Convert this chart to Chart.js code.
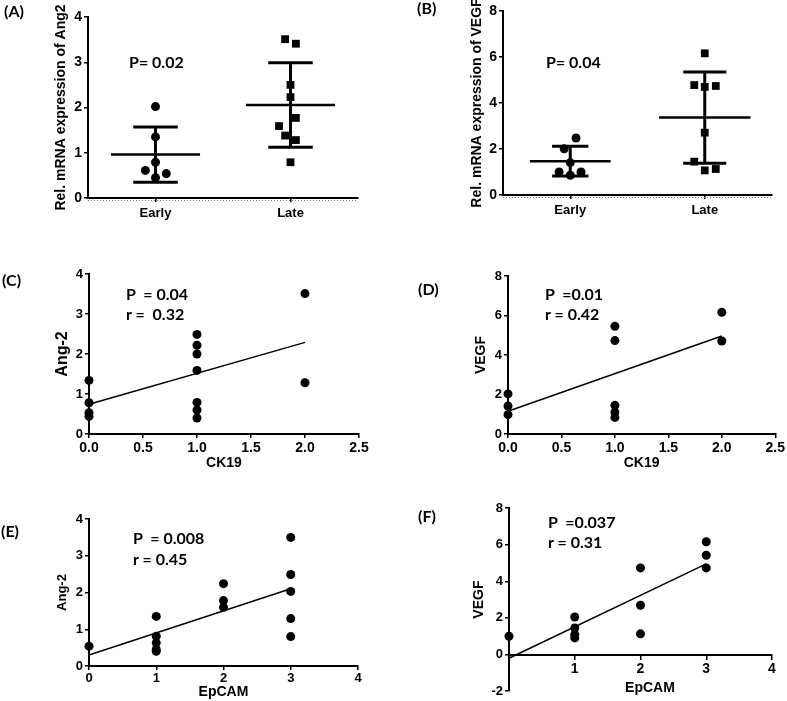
<!DOCTYPE html>
<html>
<head>
<meta charset="utf-8">
<script src="https://cdn.jsdelivr.net/npm/chart.js@4.4.1/dist/chart.umd.min.js"></script>
<style>
  html, body { margin: 0; padding: 0; background: #fff; }
  body { width: 787px; height: 701px; position: relative; overflow: hidden; }
  canvas { position: absolute; }
  .txt { position: absolute; font-family: Lato, "Open Sans", sans-serif; font-weight: bold; font-size: 16px;
         color: #000; white-space: pre; line-height: 1; transform: translateY(-50%); }
  .axt { position: absolute; font-family: "Liberation Sans", Arial, sans-serif; font-weight: bold; font-size: 14px;
         color: #000; line-height: 1; transform: translate(-50%, -50%); }
</style>
</head>
<body>
<canvas id="cA" width="390" height="222" style="left:0;top:0"></canvas>
<canvas id="cB" width="387" height="222" style="left:400px;top:0"></canvas>
<canvas id="cC" width="390" height="250" style="left:0;top:225px"></canvas>
<canvas id="cD" width="387" height="250" style="left:400px;top:225px"></canvas>
<canvas id="cE" width="390" height="231" style="left:0;top:470px"></canvas>
<canvas id="cF" width="387" height="231" style="left:400px;top:470px"></canvas>

<div class="txt" style="left:4px;top:11px">(A)</div>
<div class="txt" style="left:129px;top:62px">P= 0.02</div>
<div class="txt" style="left:417px;top:8px">(B)</div>
<div class="txt" style="left:546px;top:62px">P= 0.04</div>
<div class="txt" style="left:2px;top:280px">(C)</div>
<div class="txt" style="left:126px;top:294px">P  = 0.04</div>
<div class="txt" style="left:126px;top:314px">r =  0.32</div>
<div class="txt" style="left:418px;top:289px">(D)</div>
<div class="txt" style="left:545px;top:294px">P  =0.01</div>
<div class="txt" style="left:545px;top:314px">r = 0.42</div>
<div class="txt" style="left:1px;top:531px">(E)</div>
<div class="txt" style="left:133px;top:538px">P  = 0.008</div>
<div class="txt" style="left:133px;top:559px">r = 0.45</div>
<div class="txt" style="left:418px;top:516px">(F)</div>
<div class="txt" style="left:548px;top:522px">P  =0.037</div>
<div class="txt" style="left:548px;top:542px">r = 0.31</div>
<div class="axt" style="left:650px;top:687px">EpCAM</div>

<script>
// ---- data ----
const stageLabels = ['Early', 'Late'];

// (A) Ang2 by stage
const angEarly = [2.02, 1.35, 0.79, 0.61, 0.54, 0.45];
const angEarlyJitter = [0, 0, 0, -0.075, 0.08, 0];
const angLate = [3.51, 3.41, 2.50, 2.23, 1.77, 1.59, 1.38, 1.28, 0.79];
const angLateJitter = [-0.04, 0.04, 0, 0, 0.04, -0.085, -0.04, 0.04, 0];
const angMean = [0.96, 2.055];
const angSd = [0.61, 0.935];

// (B) VEGF by stage
const vegfEarly = [2.48, 2.01, 1.41, 1.0, 1.0, 0.86];
const vegfEarlyJitter = [0.043, -0.045, 0, -0.083, 0.08, 0];
const vegfLate = [6.16, 4.78, 4.70, 4.74, 2.71, 1.45, 1.07, 1.13];
const vegfLateJitter = [0, -0.078, 0, 0.082, 0, -0.078, 0, 0.082];
const vegfMean = [1.47, 3.365];
const vegfSd = [0.645, 1.985];

// (C) CK19 vs Ang-2
const ckAngX = [0, 0, 0, 0, 1, 1, 1, 1, 1, 1, 1, 2, 2];
const ckAngY = [1.34, 0.78, 0.53, 0.44, 2.49, 2.22, 2.0, 1.59, 0.79, 0.60, 0.40, 3.51, 1.28];
const ckAngFit = [[0, 0.745], [2, 2.29]];

// (D) CK19 vs VEGF
const ckVegfX = [0, 0, 0, 1, 1, 1, 1, 1, 2, 2];
const ckVegfY = [2.03, 1.42, 0.98, 5.45, 4.73, 1.45, 1.11, 0.84, 6.16, 4.71];
const ckVegfFit = [[0, 1.15], [2, 4.96]];

// (E) EpCAM vs Ang-2
const epAngX = [0, 1, 1, 1, 1, 1, 2, 2, 2, 3, 3, 3, 3, 3];
const epAngY = [0.54, 1.35, 0.81, 0.63, 0.45, 0.40, 2.24, 1.78, 1.60, 3.50, 2.49, 2.03, 1.29, 0.80];
const epAngFit = [[0, 0.30], [3, 2.10]];

// (F) EpCAM vs VEGF
const epVegfX = [0, 1, 1, 1, 1, 2, 2, 2, 3, 3, 3];
const epVegfY = [1.0, 2.05, 1.45, 1.09, 0.91, 4.73, 2.69, 1.13, 6.16, 5.42, 4.73];
const epVegfFit = [[0, -0.2], [3, 4.95]];

// ---- helpers ----
const tickFont = (size) => ({ family: '"Liberation Sans", Arial, sans-serif', weight: 'bold', size: size });

function pts(xs, ys, style) {
    return {
        data: xs.map((x, i) => ({ x: x, y: ys[i] })),
        pointStyle: style || 'circle',
        pointRadius: style === 'rect' ? 5.5 : 4.5,
        backgroundColor: '#000', borderColor: '#000', borderWidth: 0,
        showLine: false, clip: false, order: 0
    };
}

function seg(p1, p2, w) {
    return {
        data: [{ x: p1[0], y: p1[1] }, { x: p2[0], y: p2[1] }],
        showLine: true, borderColor: '#000', borderWidth: w, pointRadius: 0,
        clip: false, order: 1
    };
}

// mean line + SD whiskers for one group centred at c
function errBars(c, m, sd, half, cap) {
    return [
        seg([c - half, m], [c + half, m], 2.5),
        seg([c, m - sd], [c, m + sd], 3),
        seg([c - cap, m + sd], [c + cap, m + sd], 3),
        seg([c - cap, m - sd], [c + cap, m - sd], 3)
    ];
}

// faint dotted minor-tick row under the category axis
const minorRow = {
    id: 'minorRow',
    afterDraw(chart) {
        const { ctx, chartArea: a } = chart;
        ctx.save();
        ctx.strokeStyle = '#777';
        ctx.lineWidth = 1;
        ctx.setLineDash([1, 2]);
        ctx.beginPath();
        ctx.moveTo(a.left, a.bottom + 2.5);
        ctx.lineTo(a.right, a.bottom + 2.5);
        ctx.stroke();
        ctx.restore();
    }
};

function panel(id, o) {
    return new Chart(document.getElementById(id), {
        type: 'scatter',
        data: { datasets: o.datasets },
        options: {
            responsive: false,
            animation: false,
            events: [],
            layout: { padding: o.padding },
            plugins: { legend: { display: false }, tooltip: { enabled: false } },
            scales: {
                x: {
                    type: 'linear', min: o.xMin, max: o.xMax,
                    position: o.xPos || 'bottom',
                    afterBuildTicks: o.xTicks ? (s) => { s.ticks = o.xTicks.map(v => ({ value: v })); } : undefined,
                    afterFit: (s) => { if (o.xHeight) s.height = o.xHeight; },
                    border: { color: '#000', width: 2 },
                    grid: { drawOnChartArea: false, color: '#000', lineWidth: 1.5, tickLength: 4 },
                    ticks: {
                        stepSize: o.xStep, color: '#000', font: tickFont(o.xTickSize || 14),
                        padding: o.xTickPad, maxRotation: 0, autoSkip: false,
                        callback: o.xFmt
                    },
                    title: { display: !!o.xTitle, text: o.xTitle, color: '#000', font: tickFont(14), padding: 0 }
                },
                y: {
                    type: 'linear', min: o.yMin, max: o.yMax,
                    afterFit: (s) => { s.width = o.yWidth; },
                    border: { color: '#000', width: 2 },
                    grid: { drawOnChartArea: false, color: '#000', lineWidth: 1.5, tickLength: 4 },
                    ticks: { stepSize: o.yStep, color: '#000', font: tickFont(o.yTickSize || 14), padding: 2 },
                    title: { display: true, text: o.yTitle, color: '#000', font: tickFont(o.yTitleSize || 14), padding: 0 }
                }
            }
        },
        plugins: o.plugins || []
    });
}

const stageFmt = (v) => stageLabels[v - 1] || '';

// (A)
panel('cA', {
    datasets: [
        pts(angEarly.map((_, i) => 1 + angEarlyJitter[i]), angEarly, 'circle'),
        pts(angLate.map((_, i) => 2 + angLateJitter[i]), angLate, 'rect'),
        ...errBars(1, angMean[0], angSd[0], 0.33, 0.165),
        ...errBars(2, angMean[1], angSd[1], 0.33, 0.165)
    ],
    padding: { left: 53, top: 17, right: 32, bottom: 0 },
    xMin: 0.5, xMax: 2.5, xTicks: [1, 2], xFmt: stageFmt, xHeight: 24, xTickPad: 4, xTickSize: 13,
    yMin: 0, yMax: 4, yStep: 1, yWidth: 35,
    yTitle: 'Rel. mRNA expression of Ang2',
    plugins: [minorRow]
});

// (B)
panel('cB', {
    datasets: [
        pts(vegfEarly.map((_, i) => 1 + vegfEarlyJitter[i]), vegfEarly, 'circle'),
        pts(vegfLate.map((_, i) => 2 + vegfLateJitter[i]), vegfLate, 'rect'),
        ...errBars(1, vegfMean[0], vegfSd[0], 0.3, 0.135),
        ...errBars(2, vegfMean[1], vegfSd[1], 0.34, 0.16)
    ],
    padding: { left: 69, top: 11, right: 15, bottom: 0 },
    xMin: 0.5, xMax: 2.5, xTicks: [1, 2], xFmt: stageFmt, xHeight: 27, xTickPad: 4, xTickSize: 13,
    yMin: 0, yMax: 8, yStep: 2, yWidth: 34,
    yTitle: 'Rel. mRNA expression of VEGF',
    plugins: [minorRow]
});

// (C)
panel('cC', {
    datasets: [pts(ckAngX, ckAngY), seg(ckAngFit[0], ckAngFit[1], 1.5)],
    padding: { left: 53, top: 49, right: 31, bottom: 3 },
    xMin: 0, xMax: 2.5, xStep: 0.5, xFmt: (v) => v.toFixed(1), xHeight: 38, xTickPad: 2, xTitle: 'CK19',
    yMin: 0, yMax: 4, yStep: 1, yWidth: 36, yTickSize: 13,
    yTitle: 'Ang-2', yTitleSize: 16
});

// (D)
panel('cD', {
    datasets: [pts(ckVegfX, ckVegfY), seg(ckVegfFit[0], ckVegfFit[1], 1.5)],
    padding: { left: 73, top: 51, right: 9, bottom: 3 },
    xMin: 0, xMax: 2.5, xStep: 0.5, xFmt: (v) => v.toFixed(1), xHeight: 38, xTickPad: 2, xTitle: 'CK19',
    yMin: 0, yMax: 8, yStep: 2, yWidth: 35, yTickSize: 13,
    yTitle: 'VEGF'
});

// (E)
panel('cE', {
    datasets: [pts(epAngX, epAngY), seg(epAngFit[0], epAngFit[1], 1.5)],
    padding: { left: 55, top: 49, right: 32, bottom: 0 },
    xMin: 0, xMax: 4, xStep: 1, xHeight: 35, xTickPad: 1, xTickSize: 13, xTitle: 'EpCAM',
    yMin: 0, yMax: 4, yStep: 1, yWidth: 34, yTickSize: 13,
    yTitle: 'Ang-2', yTitleSize: 13
});

// (F) x axis crosses at y = 0
panel('cF', {
    datasets: [pts(epVegfX, epVegfY), seg(epVegfFit[0], epVegfFit[1], 1.5)],
    padding: { left: 71, top: 38, right: 15, bottom: 9 },
    xMin: 0, xMax: 4, xStep: 1, xPos: { y: 0 }, xTickPad: 2, xTickSize: 14,
    xFmt: (v) => (v === 0 ? '' : v),
    yMin: -2, yMax: 8, yStep: 2, yWidth: 38, yTickSize: 13,
    yTitle: 'VEGF'
});
</script>
</body>
</html>
